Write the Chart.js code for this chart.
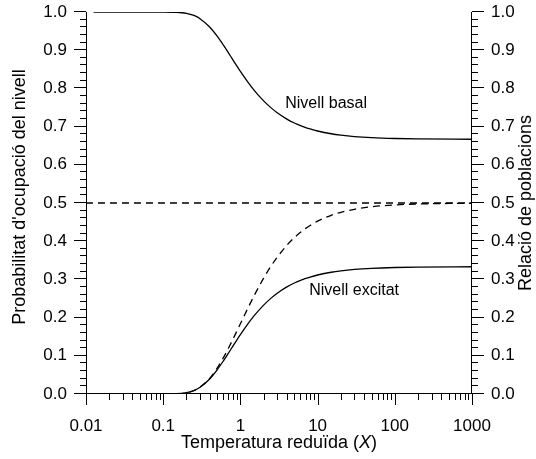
<!DOCTYPE html>
<html>
<head>
<meta charset="utf-8">
<script src="https://cdn.jsdelivr.net/npm/chart.js@4/dist/chart.umd.min.js"></script>
<style>
  html, body { margin: 0; padding: 0; background: #fff; }
  #wrap { width: 536px; height: 459px; }
</style>
</head>
<body>
<div id="wrap"><canvas id="poblacions" width="536" height="459"></canvas></div>
<script>
// reduced temperature X (log axis) and values
const temperatures = [0.0125, 0.1, 0.15, 0.2, 0.25, 0.3, 0.4, 0.5, 0.6, 0.7, 0.8, 1, 1.25, 1.5, 2, 2.5, 3, 4, 5, 6, 7, 8, 10, 15, 20, 30, 50, 100, 200, 1000];
const nivellBasal = [1, 1, 0.9994, 0.9966, 0.9909, 0.9825, 0.9606, 0.9366, 0.9137, 0.8930, 0.8747, 0.8446, 0.8166, 0.7957, 0.7673, 0.7490, 0.7362, 0.7197, 0.7095, 0.7027, 0.6976, 0.6938, 0.6885, 0.6813, 0.6777, 0.6740, 0.6711, 0.6689, 0.6678, 0.6669];
const nivellExcitat = [0, 0, 0.0006, 0.0034, 0.0091, 0.0175, 0.0394, 0.0634, 0.0863, 0.1070, 0.1253, 0.1554, 0.1834, 0.2043, 0.2327, 0.2510, 0.2638, 0.2803, 0.2905, 0.2973, 0.3024, 0.3062, 0.3115, 0.3187, 0.3223, 0.3260, 0.3289, 0.3311, 0.3322, 0.3331];
const relacio = [0, 0, 0.0006, 0.0034, 0.0092, 0.0179, 0.0410, 0.0677, 0.0944, 0.1199, 0.1433, 0.1839, 0.2247, 0.2567, 0.3033, 0.3352, 0.3583, 0.3894, 0.4094, 0.4233, 0.4335, 0.4412, 0.4524, 0.4678, 0.4756, 0.4836, 0.4901, 0.4950, 0.4975, 0.4995];
const limitX = [0.01, 1000];
const limitY = [0.5, 0.5];
const xTicks = [0.01, 0.1, 1, 10, 100, 1000];
const yTicks = [0, 0.1, 0.2, 0.3, 0.4, 0.5, 0.6, 0.7, 0.8, 0.9, 1.0];

const FONT = '"Liberation Sans", Arial, sans-serif';

function pts(xs, ys) {
  return xs.map((x, i) => ({ x: x, y: ys[i] }));
}

// axis lines, outward ticks, titles and curve labels
const frame = {
  id: 'frame',
  afterDraw(chart) {
    const ctx = chart.ctx;
    const x = chart.scales.x, y = chart.scales.y, y2 = chart.scales.y2;
    const a = chart.chartArea;
    ctx.save();
    ctx.strokeStyle = '#000';
    ctx.lineWidth = 1;
    ctx.beginPath();
    ctx.moveTo(a.left + 0.5, a.top); ctx.lineTo(a.left + 0.5, a.bottom);
    ctx.moveTo(a.right - 0.5, a.top); ctx.lineTo(a.right - 0.5, a.bottom);
    ctx.moveTo(a.left, a.bottom - 0.5); ctx.lineTo(a.right, a.bottom - 0.5);
    for (let i = 0; i <= 50; i++) {
      const v = i / 50;
      const len = i % 5 === 0 ? 12 : 6;
      const py = Math.round(y.getPixelForValue(v)) - 0.5;
      ctx.moveTo(a.left, py); ctx.lineTo(a.left - len, py);
      const py2 = Math.round(y2.getPixelForValue(v)) - 0.5;
      ctx.moveTo(a.right, py2); ctx.lineTo(a.right + len, py2);
    }
    for (let d = -2; d <= 3; d++) {
      for (let m = 1; m <= 9; m++) {
        if (d === 3 && m > 1) break;
        const v = m * Math.pow(10, d);
        const px = Math.round(x.getPixelForValue(v)) + 0.5;
        const len = m === 1 ? 11 : 6;
        ctx.moveTo(px, a.bottom); ctx.lineTo(px, a.bottom + len);
      }
    }
    ctx.stroke();

    ctx.fillStyle = '#000';
    ctx.textBaseline = 'middle';
    // x title with italic X
    const t1 = 'Temperatura reduïda (', t3 = ')';
    ctx.font = '18px ' + FONT;
    const w1 = ctx.measureText(t1).width, w3 = ctx.measureText(t3).width;
    ctx.font = 'italic 18px ' + FONT;
    const w2 = ctx.measureText('X').width;
    const sx = (a.left + a.right) / 2 - (w1 + w2 + w3) / 2;
    const ty = 443;
    ctx.textAlign = 'left';
    ctx.font = '18px ' + FONT;
    ctx.fillText(t1, sx, ty);
    ctx.font = 'italic 18px ' + FONT;
    ctx.fillText('X', sx + w1, ty);
    ctx.font = '18px ' + FONT;
    ctx.fillText(t3, sx + w1 + w2, ty);

    // y titles
    ctx.textAlign = 'center';
    const cy = (a.top + a.bottom) / 2;
    ctx.save();
    ctx.translate(20, cy - 6);
    ctx.rotate(-Math.PI / 2);
    ctx.fillText("Probabilitat d'ocupació del nivell", 0, 0);
    ctx.restore();
    ctx.save();
    ctx.translate(526, cy);
    ctx.rotate(-Math.PI / 2);
    ctx.fillText('Relació de poblacions', 0, 0);
    ctx.restore();

    // curve labels
    ctx.font = '16px ' + FONT;
    ctx.fillText('Nivell basal', x.getPixelForValue(12.9), y.getPixelForValue(0.761));
    ctx.fillText('Nivell excitat', x.getPixelForValue(29.7), y.getPixelForValue(0.27));
    ctx.restore();
  }
};

function noPad(s) {
  s.paddingTop = 0; s.paddingBottom = 0;
  s.paddingLeft = 0; s.paddingRight = 0;
}

new Chart(document.getElementById('poblacions'), {
  type: 'line',
  data: {
    datasets: [{
      label: 'Nivell basal',
      data: pts(temperatures, nivellBasal),
      borderColor: '#000',
      borderWidth: 1.3,
      pointRadius: 0,
      cubicInterpolationMode: 'monotone'
    }, {
      label: 'Nivell excitat',
      data: pts(temperatures, nivellExcitat),
      borderColor: '#000',
      borderWidth: 1.3,
      pointRadius: 0,
      cubicInterpolationMode: 'monotone'
    }, {
      label: 'Relació de poblacions',
      data: pts(temperatures, relacio),
      yAxisID: 'y2',
      borderColor: '#000',
      borderWidth: 1.3,
      borderDash: [7, 5],
      pointRadius: 0,
      cubicInterpolationMode: 'monotone'
    }, {
      label: 'Límit',
      data: pts(limitX, limitY),
      yAxisID: 'y2',
      borderColor: '#000',
      borderWidth: 1.4,
      borderDash: [7, 5],
      pointRadius: 0
    }]
  },
  options: {
    responsive: false,
    animation: false,
    events: [],
    layout: { padding: { top: 12, left: 0, right: 0, bottom: 0 } },
    scales: {
      x: {
        type: 'logarithmic',
        min: 0.01,
        max: 1000,
        afterFit(s) { s.height = 65; noPad(s); },
        afterBuildTicks(s) { s.ticks = xTicks.map(v => ({ value: v })); },
        grid: { display: false, drawTicks: false },
        border: { display: false },
        ticks: {
          autoSkip: false,
          maxRotation: 0,
          padding: 22,
          color: '#000',
          font: { family: FONT, size: 17 },
          callback: v => String(v)
        }
      },
      y: {
        min: 0,
        max: 1,
        position: 'left',
        afterFit(s) { s.width = 86; noPad(s); },
        afterBuildTicks(s) { s.ticks = yTicks.map(v => ({ value: v })); },
        grid: { display: false, drawTicks: false },
        border: { display: false },
        ticks: {
          padding: 19,
          color: '#000',
          font: { family: FONT, size: 17 },
          callback: v => v.toFixed(1)
        }
      },
      y2: {
        min: 0,
        max: 1,
        position: 'right',
        afterFit(s) { s.width = 64; noPad(s); },
        afterBuildTicks(s) { s.ticks = yTicks.map(v => ({ value: v })); },
        grid: { display: false, drawTicks: false },
        border: { display: false },
        ticks: {
          padding: 19,
          color: '#000',
          font: { family: FONT, size: 17 },
          callback: v => v.toFixed(1)
        }
      }
    },
    plugins: {
      legend: { display: false },
      tooltip: { enabled: false }
    }
  },
  plugins: [frame]
});
</script>
</body>
</html>
